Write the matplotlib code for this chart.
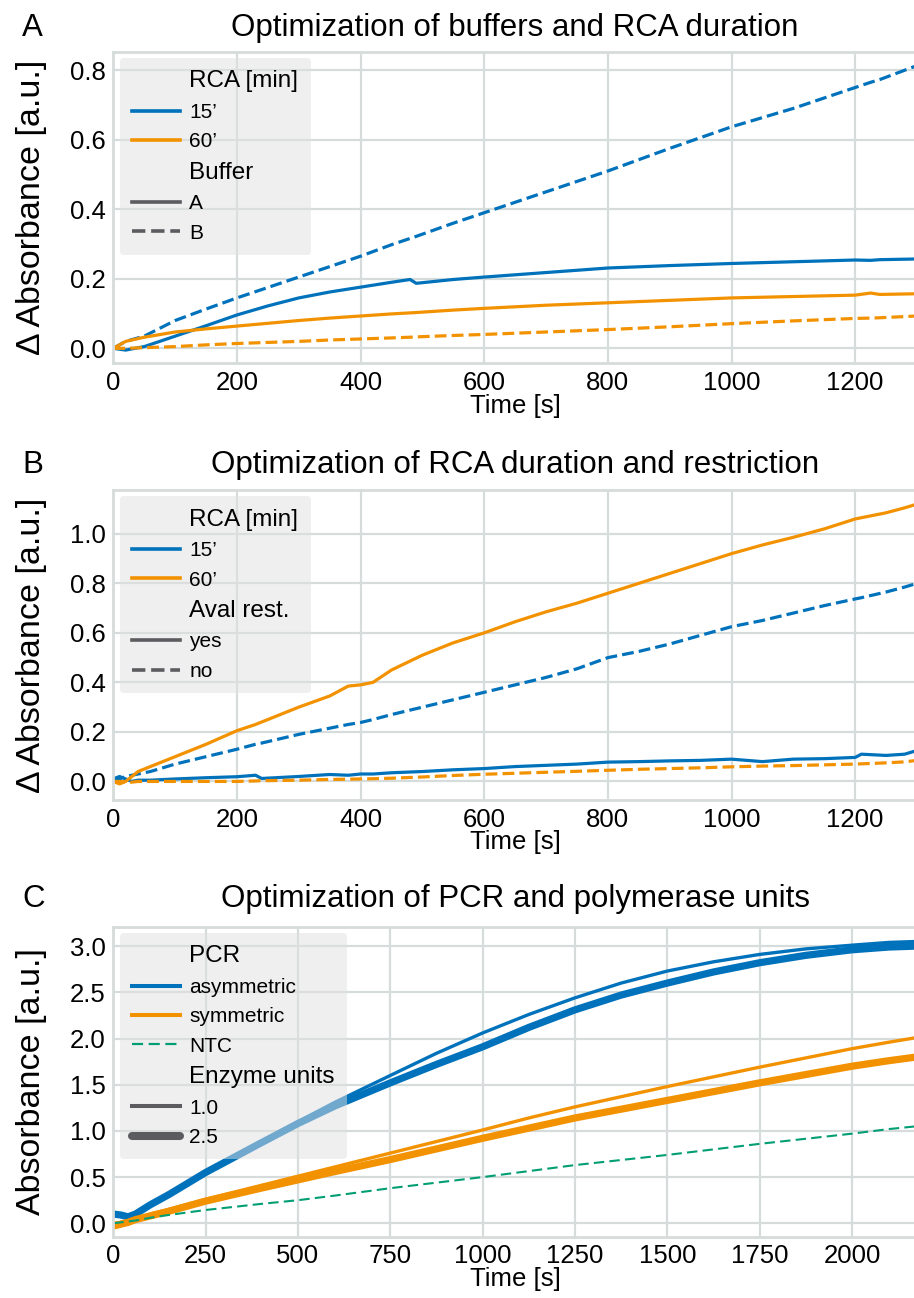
import matplotlib
matplotlib.use('Agg')
import matplotlib.pyplot as plt
from matplotlib.lines import Line2D

plt.rcParams['font.family'] = ['Liberation Sans', 'DejaVu Sans']

BLUE = '#0072BB'
ORANGE = '#F39200'
GREEN = '#029E73'
GRAY = '#5c5c60'
GRID = '#d6dcdb'

# Panel A: buffers and RCA duration
a_t = [0, 20, 50, 100, 150, 200, 250, 300, 350, 400, 450, 480, 490, 550,
       600, 700, 800, 900, 1000, 1100, 1200, 1225, 1240, 1300]
a_15_bufA = [0.0, -0.005, 0.005, 0.035, 0.065, 0.096, 0.122, 0.145, 0.162, 0.176,
             0.19, 0.198, 0.187, 0.198, 0.205, 0.218, 0.231, 0.238, 0.244, 0.249,
             0.254, 0.253, 0.255, 0.257]
a_15_bufB = [0.0, 0.02, 0.035, 0.08, 0.113, 0.145, 0.175, 0.205, 0.235, 0.265,
             0.298, 0.316, 0.322, 0.36, 0.39, 0.45, 0.51, 0.575, 0.637, 0.69,
             0.75, 0.765, 0.773, 0.813]
a_60_bufA = [0.0, 0.02, 0.032, 0.047, 0.056, 0.064, 0.072, 0.08, 0.087, 0.093,
             0.099, 0.102, 0.103, 0.11, 0.115, 0.124, 0.131, 0.138, 0.145, 0.149,
             0.153, 0.159, 0.155, 0.157]
a_60_bufB = [0.0, 0.0, 0.002, 0.005, 0.01, 0.014, 0.017, 0.02, 0.024, 0.027,
             0.03, 0.032, 0.033, 0.037, 0.04, 0.047, 0.054, 0.062, 0.071, 0.079,
             0.086, 0.087, 0.088, 0.093]

# Panel B: RCA duration and restriction
b_t = [0, 10, 20, 30, 40, 60, 100, 150, 200, 230, 240, 300, 350, 380, 400, 420,
       450, 500, 550, 600, 650, 700, 750, 800, 850, 900, 950, 1000, 1050, 1100,
       1150, 1200, 1210, 1250, 1280, 1300]
b_15_yes = [0.01, 0.02, 0.01, 0.0, 0.005, 0.005, 0.01, 0.015, 0.019, 0.025, 0.012,
            0.02, 0.028, 0.025, 0.03, 0.03, 0.035, 0.04, 0.047, 0.052, 0.06, 0.065,
            0.07, 0.078, 0.08, 0.083, 0.085, 0.09, 0.08, 0.09, 0.092, 0.097, 0.11,
            0.105, 0.11, 0.125]
b_60_yes = [0.0, -0.01, 0.0, 0.02, 0.04, 0.06, 0.10, 0.15, 0.205, 0.23, 0.24, 0.30,
            0.345, 0.385, 0.39, 0.40, 0.45, 0.51, 0.56, 0.60, 0.645, 0.685, 0.72,
            0.76, 0.80, 0.84, 0.88, 0.92, 0.955, 0.986, 1.02, 1.06, 1.065, 1.085,
            1.105, 1.12]
b_15_no = [0.0, 0.01, 0.02, 0.025, 0.03, 0.04, 0.07, 0.1, 0.13, 0.15, 0.155, 0.19,
           0.215, 0.23, 0.238, 0.25, 0.27, 0.3, 0.33, 0.36, 0.39, 0.42, 0.455, 0.5,
           0.525, 0.555, 0.59, 0.625, 0.65, 0.68, 0.71, 0.737, 0.742, 0.765, 0.785,
           0.80]
b_60_no = [0.0, 0.0, -0.002, -0.003, 0.0, 0.0, 0.0, 0.0, 0.0, 0.002, 0.003, 0.005,
           0.008, 0.009, 0.01, 0.011, 0.013, 0.018, 0.024, 0.029, 0.033, 0.037,
           0.041, 0.045, 0.049, 0.052, 0.055, 0.059, 0.062, 0.064, 0.067, 0.07,
           0.071, 0.075, 0.079, 0.085]

# Panel C: PCR and polymerase units
c_t = [0, 20, 40, 60, 100, 150, 250, 400, 500, 600, 750, 875, 1000, 1125, 1250,
       1375, 1500, 1625, 1750, 1875, 2000, 2100, 2175]
c_asym_1 = [0.08, 0.09, 0.07, 0.1, 0.2, 0.31, 0.56, 0.88, 1.1, 1.31, 1.6, 1.84,
            2.06, 2.26, 2.44, 2.6, 2.73, 2.83, 2.91, 2.97, 3.01, 3.04, 3.05]
c_asym_25 = [0.1, 0.09, 0.07, 0.1, 0.2, 0.31, 0.55, 0.87, 1.08, 1.27, 1.52, 1.72,
             1.91, 2.12, 2.31, 2.47, 2.6, 2.72, 2.82, 2.9, 2.96, 2.99, 3.0]
c_sym_1 = [0.0, 0.01, 0.03, 0.05, 0.1, 0.15, 0.26, 0.41, 0.51, 0.61, 0.76, 0.885,
           1.01, 1.14, 1.26, 1.37, 1.48, 1.585, 1.69, 1.79, 1.89, 1.96, 2.01]
c_sym_25 = [-0.03, -0.01, 0.01, 0.04, 0.08, 0.13, 0.24, 0.38, 0.47, 0.56, 0.69,
            0.805, 0.92, 1.03, 1.14, 1.235, 1.33, 1.425, 1.52, 1.61, 1.70, 1.76, 1.80]
c_ntc = [0.0, 0.01, 0.02, 0.03, 0.06, 0.09, 0.144, 0.21, 0.25, 0.3, 0.38, 0.44, 0.5,
         0.565, 0.63, 0.685, 0.74, 0.8, 0.86, 0.915, 0.97, 1.02, 1.05]

W, H = 914, 1298
fig = plt.figure(figsize=(W / 100, H / 100), dpi=100)


def make_axes(top_px, bottom_px):
    left, right = 113.3, 917
    return fig.add_axes([left / W, 1 - bottom_px / H, (right - left) / W,
                         (bottom_px - top_px) / H])


def style(ax, title, letter, pad, ylabel):
    ax.set_facecolor('white')
    ax.grid(True, color=GRID, lw=1.6)
    ax.set_axisbelow(True)
    for s in ax.spines.values():
        s.set_color(GRID)
        s.set_linewidth(2.0)
    ax.tick_params(length=0, labelsize=18.5, pad=5.5)
    ax.set_title(title, fontsize=22.5, pad=pad)
    ax.set_xlabel('Time [s]', fontsize=18.5, labelpad=-1)
    ax.set_ylabel(ylabel, fontsize=24.5)
    ax.yaxis.set_label_coords(-0.083, 0.5)
    bb = ax.get_position()
    fig.text(22 / W, bb.y1 + pad * 1.3889 / H, letter, fontsize=22.5,
             ha='left', va='baseline')


def sub(text):
    return Line2D([], [], color='none', label=text)


def legend(ax, handles, subs):
    leg = ax.legend(handles=handles, loc='upper left', fontsize=15,
                    borderaxespad=0.3, borderpad=0.6, labelspacing=0.5,
                    handlelength=2.3, handletextpad=0.45,
                    facecolor='#e0e0e0', framealpha=0.5, edgecolor='none')
    for t in leg.get_texts():
        if t.get_text() in subs:
            t.set_fontsize(17.5)
    return leg


# ---- A
axA = make_axes(51.7, 363.3)
lw = 2.3
axA.plot(a_t, a_15_bufA, color=BLUE, lw=lw)
axA.plot(a_t, a_15_bufB, color=BLUE, lw=lw, ls='--')
axA.plot(a_t, a_60_bufA, color=ORANGE, lw=lw)
axA.plot(a_t, a_60_bufB, color=ORANGE, lw=lw, ls='--')
axA.set_xlim(0, 1300)
axA.set_ylim(-0.043, 0.853)
axA.set_xticks([0, 200, 400, 600, 800, 1000, 1200])
axA.set_yticks([0.0, 0.2, 0.4, 0.6, 0.8])
style(axA, 'Optimization of buffers and RCA duration', 'A', 11,
      'Δ Absorbance [a.u.]')
legend(axA, [sub('RCA [min]'),
             Line2D([], [], color=BLUE, lw=2.6, label='15’'),
             Line2D([], [], color=ORANGE, lw=2.6, label='60’'),
             sub('Buffer'),
             Line2D([], [], color=GRAY, lw=2.6, label='A'),
             Line2D([], [], color=GRAY, lw=2.6, ls='--', label='B')],
       ['RCA [min]', 'Buffer'])

# ---- B
axB = make_axes(490, 800)
axB.plot(b_t, b_15_yes, color=BLUE, lw=lw)
axB.plot(b_t, b_15_no, color=BLUE, lw=lw, ls='--')
axB.plot(b_t, b_60_yes, color=ORANGE, lw=lw)
axB.plot(b_t, b_60_no, color=ORANGE, lw=lw, ls='--')
axB.set_xlim(0, 1300)
axB.set_ylim(-0.075, 1.177)
axB.set_xticks([0, 200, 400, 600, 800, 1000, 1200])
axB.set_yticks([0.0, 0.2, 0.4, 0.6, 0.8, 1.0])
style(axB, 'Optimization of RCA duration and restriction', 'B', 12,
      'Δ Absorbance [a.u.]')
legend(axB, [sub('RCA [min]'),
             Line2D([], [], color=BLUE, lw=2.6, label='15’'),
             Line2D([], [], color=ORANGE, lw=2.6, label='60’'),
             sub('Aval rest.'),
             Line2D([], [], color=GRAY, lw=2.6, label='yes'),
             Line2D([], [], color=GRAY, lw=2.6, ls='--', label='no')],
       ['RCA [min]', 'Aval rest.'])

# ---- C
axC = make_axes(926.7, 1236.7)
axC.plot(c_t, c_asym_25, color=BLUE, lw=5.2, solid_capstyle='round')
axC.plot(c_t, c_asym_1, color=BLUE, lw=2.4)
axC.plot(c_t, c_sym_25, color=ORANGE, lw=5.2, solid_capstyle='round')
axC.plot(c_t, c_sym_1, color=ORANGE, lw=2.4)
axC.plot(c_t, c_ntc, color=GREEN, lw=1.5, ls=(0, (5, 2.5)))
axC.set_xlim(0, 2176)
axC.set_ylim(-0.145, 3.21)
axC.set_xticks([0, 250, 500, 750, 1000, 1250, 1500, 1750, 2000])
axC.set_yticks([0.0, 0.5, 1.0, 1.5, 2.0, 2.5, 3.0])
style(axC, 'Optimization of PCR and polymerase units', 'C', 14.4,
      'Absorbance [a.u.]')
legend(axC, [sub('PCR'),
             Line2D([], [], color=BLUE, lw=2.9, label='asymmetric'),
             Line2D([], [], color=ORANGE, lw=2.9, label='symmetric'),
             Line2D([], [], color=GREEN, lw=1.6, ls=(0, (5, 2.5)), label='NTC'),
             sub('Enzyme units'),
             Line2D([], [], color=GRAY, lw=2.9, label='1.0'),
             Line2D([], [], color=GRAY, lw=5.8, solid_capstyle='round',
                    label='2.5')],
       ['PCR', 'Enzyme units'])

fig.savefig('out.png', dpi=100)
